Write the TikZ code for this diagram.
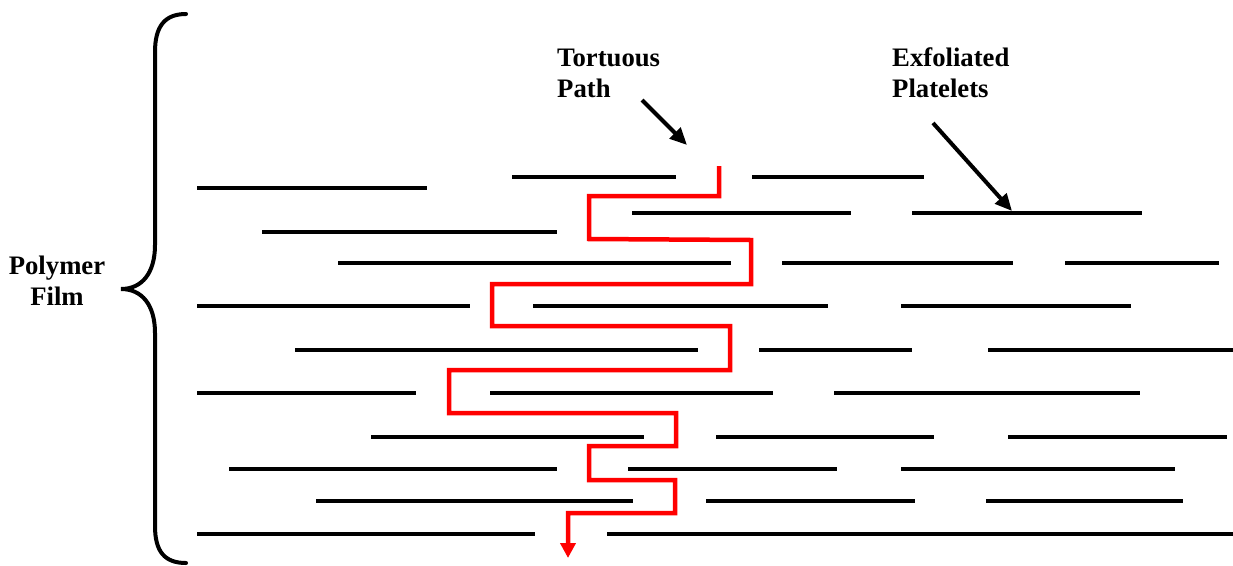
\documentclass[tikz,border=0pt]{standalone}
\usepackage{fontspec}
\setmainfont{Liberation Serif}
\usetikzlibrary{arrows.meta}
\begin{document}
\begin{tikzpicture}[x=1pt,y=-1pt,
  plate/.style={line width=4.5pt,black},
  redpath/.style={line width=4.5pt,red,line join=miter,-{Triangle[width=15pt,length=15pt]}},
  pointer/.style={line width=4pt,black,-{Triangle[width=15pt,length=17pt]}},
  label/.style={font=\bfseries\fontsize{26.7}{31}\selectfont,inner sep=0pt}]
\useasboundingbox (0,0) rectangle (1233,565);
% platelets
\foreach \y/\a/\b in {
  177/512/676, 177/752/924,
  188/197/427,
  213/632/851, 213/912/1142,
  232/262/557,
  263/338/731, 263/782/1013, 263/1065/1219,
  306/197/470, 306/533/828, 306/901/1131,
  350/295/698, 350/759/912, 350/988/1233,
  393/197/416, 393/490/773, 393/834/1140,
  437/371/644, 437/716/934, 437/1008/1227,
  469/229/557, 469/628/837, 469/901/1175,
  501/316/633, 501/706/915, 501/986/1183,
  534/197/535, 534/607/1233}
  \draw[plate] (\a,\y) -- (\b,\y);
% tortuous path
\coordinate (ps) at (719,166);
\coordinate (pe) at (568,558);
\draw[redpath] (ps) -- (719,196) -- (589,196) -- (589,239) -- (751,240) -- (751,284)
  -- (492,284) -- (492,326) -- (730,326) -- (730,370) -- (449,370) -- (449,413)
  -- (676,413) -- (676,446) -- (589,446) -- (589,480) -- (675,480) -- (675,513)
  -- (568,513) -- (pe);
% brace
\draw[line width=4pt,line cap=round] (186,14) .. controls (165,14) and (155,26) .. (155,52)
  -- (155,245) .. controls (155,273) and (142,289) .. (121,289)
  .. controls (142,289) and (155,305) .. (155,333)
  -- (155,526) .. controls (155,552) and (165,563) .. (186,563);
% labels
\node[label,align=center] (film) at (57,281) {Polymer\\Film};
\node[label,align=left,anchor=west] (tort) at (557,73) {Tortuous\\Path};
\node[label,align=left,anchor=west] (exf) at (892,73) {Exfoliated\\Platelets};
\coordinate (ta) at (642,100);
\coordinate (tb) at (687,145);
\coordinate (ea) at (933,123);
\coordinate (eb) at (1012,211);
\draw[pointer] (ta) -- (tb);
\draw[pointer] (ea) -- (eb);
\end{tikzpicture}
\end{document}
